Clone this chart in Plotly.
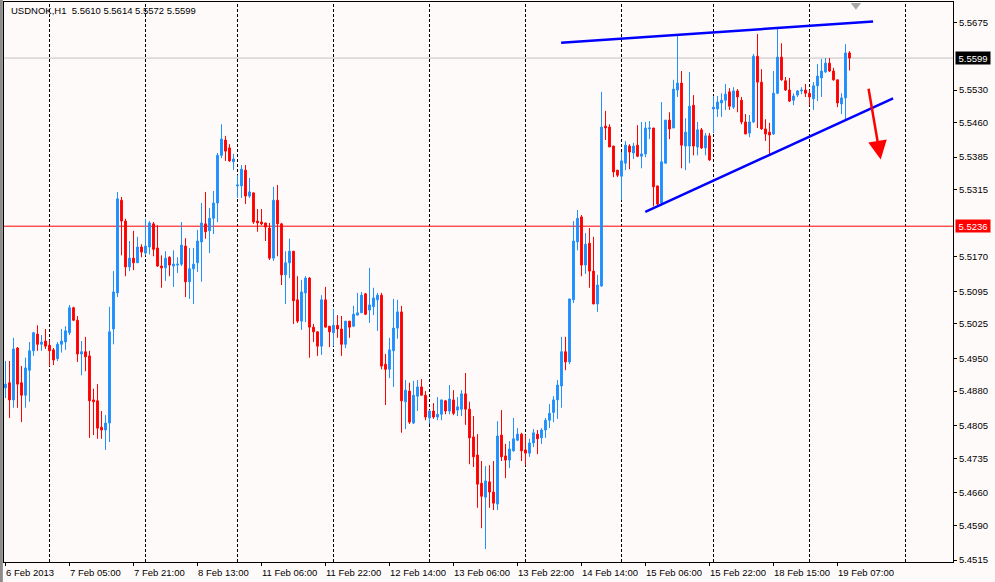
import plotly.graph_objects as go

# USDNOK H1 candles, bar index 0 = 6 Feb 2013 13:00
open_ = [5.4887, 5.4898, 5.4861, 5.4973, 5.4898, 5.4871, 5.4925, 5.4967, 5.5003, 5.4981,
         5.4988, 5.4979, 5.4969, 5.4950, 5.4981, 5.4986, 5.5006, 5.5060, 5.5033, 5.4960,
         5.4965, 5.4956, 5.4861, 5.4859, 5.4802, 5.4796, 5.4811, 5.5014, 5.5092, 5.5292,
         5.5247, 5.5148, 5.5167, 5.5157, 5.5191, 5.5178, 5.5191, 5.5241, 5.5189, 5.5150,
         5.5146, 5.5169, 5.5150, 5.5152, 5.5154, 5.5193, 5.5116, 5.5144, 5.5157, 5.5202,
         5.5241, 5.5226, 5.5253, 5.5286, 5.5389, 5.5422, 5.5405, 5.5375, 5.5323, 5.5323,
         5.5357, 5.5301, 5.5308, 5.5247, 5.5245, 5.5243, 5.5232, 5.5167, 5.5292, 5.5241,
         5.5131, 5.5157, 5.5182, 5.5077, 5.5031, 5.5092, 5.5124, 5.5018, 5.5008, 5.4977,
         5.5077, 5.5020, 5.5006, 5.5022, 5.5014, 5.4981, 5.5031, 5.5020, 5.5044, 5.5049,
         5.5090, 5.5055, 5.5062, 5.5077, 5.5087, 5.4938, 5.4927, 5.4967, 5.5016, 5.5051,
         5.4857, 5.4880, 5.4811, 5.4869, 5.4889, 5.4871, 5.4822, 5.4837, 5.4824, 5.4830,
         5.4859, 5.4837, 5.4861, 5.4839, 5.4841, 5.4874, 5.4841, 5.4781, 5.4742, 5.4681,
         5.4651, 5.4684, 5.4662, 5.4636, 5.4785, 5.4740, 5.4731, 5.4751, 5.4774, 5.4787,
         5.4753, 5.4746, 5.4768, 5.4787, 5.4779, 5.4796, 5.4817, 5.4834, 5.4861, 5.4891,
         5.4965, 5.4943, 5.5077, 5.5202, 5.5256, 5.5152, 5.5199, 5.5139, 5.5068, 5.5107,
         5.5452, 5.5450, 5.5409, 5.5357, 5.5344, 5.5372, 5.5409, 5.5394, 5.5411, 5.5387,
         5.5392, 5.5446, 5.5448, 5.5323, 5.5286, 5.5372, 5.5465, 5.5448, 5.5530, 5.5545,
         5.5409, 5.5409, 5.5497, 5.5407, 5.5444, 5.5405, 5.5431, 5.5489, 5.5489, 5.5502,
         5.5508, 5.5526, 5.5493, 5.5528, 5.5508, 5.5461, 5.5437, 5.5461, 5.5603, 5.5547,
         5.5446, 5.5439, 5.5435, 5.5523, 5.5601, 5.5550, 5.5530, 5.5508, 5.5519, 5.5528,
         5.5530, 5.5523, 5.5511, 5.5539, 5.5556, 5.5569, 5.5588, 5.5571, 5.5552, 5.5500,
         5.5513, 5.5610]

high = [5.4945, 5.4945, 5.4995, 5.4975, 5.4934, 5.4952, 5.4986, 5.5008, 5.5022, 5.5001,
        5.5014, 5.4990, 5.4973, 5.4986, 5.5014, 5.5020, 5.5066, 5.5062, 5.5042, 5.4988,
        5.4997, 5.4967, 5.4885, 5.4895, 5.4837, 5.4828, 5.5062, 5.5139, 5.5310, 5.5299,
        5.5252, 5.5204, 5.5226, 5.5213, 5.5197, 5.5252, 5.5247, 5.5245, 5.5238, 5.5173,
        5.5182, 5.5171, 5.5184, 5.5169, 5.5245, 5.5210, 5.5189, 5.5189, 5.5228, 5.5286,
        5.5310, 5.5275, 5.5312, 5.5394, 5.5456, 5.5431, 5.5413, 5.5392, 5.5346, 5.5368,
        5.5368, 5.5340, 5.5308, 5.5273, 5.5273, 5.5243, 5.5243, 5.5321, 5.5325, 5.5243,
        5.5182, 5.5209, 5.5182, 5.5128, 5.5120, 5.5128, 5.5126, 5.5025, 5.5008, 5.5087,
        5.5105, 5.5020, 5.5057, 5.5044, 5.5042, 5.5031, 5.5031, 5.5064, 5.5092, 5.5094,
        5.5092, 5.5146, 5.5103, 5.5092, 5.5092, 5.4960, 5.4995, 5.5079, 5.5077, 5.5064,
        5.4904, 5.4898, 5.4902, 5.4904, 5.4906, 5.4880, 5.4839, 5.4854, 5.4867, 5.4861,
        5.4861, 5.4893, 5.4882, 5.4867, 5.4882, 5.4919, 5.4857, 5.4826, 5.4787, 5.4729,
        5.4718, 5.4720, 5.4729, 5.4815, 5.4839, 5.4766, 5.4772, 5.4822, 5.4800, 5.4790,
        5.4785, 5.4777, 5.4798, 5.4796, 5.4800, 5.4822, 5.4852, 5.4869, 5.4904, 5.4997,
        5.4997, 5.5079, 5.5247, 5.5271, 5.5260, 5.5221, 5.5232, 5.5213, 5.5131, 5.5526,
        5.5485, 5.5456, 5.5409, 5.5357, 5.5396, 5.5420, 5.5413, 5.5416, 5.5454, 5.5461,
        5.5461, 5.5463, 5.5448, 5.5323, 5.5504, 5.5465, 5.5482, 5.5552, 5.5649, 5.5571,
        5.5469, 5.5569, 5.5519, 5.5461, 5.5448, 5.5437, 5.5437, 5.5517, 5.5517, 5.5523,
        5.5543, 5.5534, 5.5536, 5.5532, 5.5515, 5.5478, 5.5476, 5.5608, 5.5651, 5.5575,
        5.5467, 5.5459, 5.5571, 5.5662, 5.5631, 5.5558, 5.5556, 5.5523, 5.5530, 5.5536,
        5.5543, 5.5530, 5.5547, 5.5586, 5.5597, 5.5599, 5.5599, 5.5578, 5.5552, 5.5523,
        5.5629, 5.5614]

low = [5.4865, 5.4822, 5.4844, 5.4844, 5.4813, 5.4844, 5.4857, 5.4956, 5.4967, 5.4967,
       5.4971, 5.4934, 5.4936, 5.4945, 5.4963, 5.4969, 5.5001, 5.5031, 5.4943, 5.4914,
       5.4923, 5.4779, 5.4785, 5.4777, 5.4777, 5.4753, 5.4770, 5.4981, 5.5083, 5.5173,
       5.5128, 5.5139, 5.5141, 5.5157, 5.5169, 5.5173, 5.5175, 5.5171, 5.5148, 5.5103,
       5.5118, 5.5128, 5.5105, 5.5135, 5.5150, 5.5083, 5.5079, 5.5068, 5.5137, 5.5116,
       5.5209, 5.5178, 5.5219, 5.5245, 5.5383, 5.5377, 5.5375, 5.5357, 5.5297, 5.5297,
       5.5284, 5.5297, 5.5241, 5.5224, 5.5238, 5.5204, 5.5163, 5.5161, 5.5171, 5.5109,
       5.5068, 5.5124, 5.5025, 5.5027, 5.5012, 5.5029, 5.4952, 5.4986, 5.4956, 5.4958,
       5.5018, 5.4975, 5.4977, 5.4995, 5.4956, 5.4973, 5.4995, 5.5018, 5.5044, 5.5049,
       5.5044, 5.5027, 5.5044, 5.5010, 5.4927, 5.4850, 5.4908, 5.4889, 5.4993, 5.4790,
       5.4798, 5.4809, 5.4809, 5.4837, 5.4871, 5.4817, 5.4809, 5.4820, 5.4817, 5.4817,
       5.4830, 5.4830, 5.4828, 5.4826, 5.4826, 5.4807, 5.4722, 5.4716, 5.4628, 5.4584,
       5.4539, 5.4628, 5.4623, 5.4623, 5.4729, 5.4692, 5.4714, 5.4749, 5.4772, 5.4729,
       5.4720, 5.4738, 5.4759, 5.4744, 5.4766, 5.4779, 5.4800, 5.4813, 5.4820, 5.4844,
       5.4925, 5.4938, 5.5070, 5.5184, 5.5128, 5.5133, 5.5103, 5.5068, 5.5051, 5.5105,
       5.5422, 5.5407, 5.5342, 5.5342, 5.5292, 5.5357, 5.5359, 5.5381, 5.5385, 5.5361,
       5.5385, 5.5424, 5.5279, 5.5279, 5.5284, 5.5372, 5.5424, 5.5448, 5.5515, 5.5361,
       5.5357, 5.5372, 5.5389, 5.5389, 5.5403, 5.5389, 5.5377, 5.5437, 5.5472, 5.5472,
       5.5487, 5.5487, 5.5489, 5.5482, 5.5456, 5.5435, 5.5428, 5.5459, 5.5448, 5.5444,
       5.5420, 5.5392, 5.5433, 5.5521, 5.5550, 5.5528, 5.5504, 5.5497, 5.5515, 5.5521,
       5.5515, 5.5497, 5.5487, 5.5506, 5.5515, 5.5567, 5.5569, 5.5550, 5.5493, 5.5478,
       5.5467, 5.5572]

close = [5.4895, 5.4861, 5.4971, 5.4895, 5.4871, 5.4930, 5.4967, 5.5006, 5.4981, 5.4986,
         5.4977, 5.4967, 5.4947, 5.4981, 5.4988, 5.5010, 5.5060, 5.5033, 5.4960, 5.4965,
         5.4954, 5.4859, 5.4857, 5.4800, 5.4796, 5.4811, 5.5008, 5.5094, 5.5295, 5.5247,
         5.5148, 5.5167, 5.5157, 5.5191, 5.5180, 5.5193, 5.5243, 5.5186, 5.5150, 5.5146,
         5.5167, 5.5152, 5.5154, 5.5154, 5.5195, 5.5116, 5.5144, 5.5154, 5.5204, 5.5243,
         5.5224, 5.5253, 5.5286, 5.5389, 5.5424, 5.5398, 5.5377, 5.5381, 5.5325, 5.5359,
         5.5301, 5.5310, 5.5245, 5.5243, 5.5241, 5.5234, 5.5167, 5.5292, 5.5241, 5.5131,
         5.5157, 5.5182, 5.5075, 5.5031, 5.5094, 5.5124, 5.5018, 5.5008, 5.4977, 5.5077,
         5.5018, 5.5008, 5.5022, 5.5014, 5.4981, 5.5031, 5.5018, 5.5046, 5.5049, 5.5087,
         5.5046, 5.5066, 5.5081, 5.5087, 5.4934, 5.4927, 5.4969, 5.5016, 5.5051, 5.4859,
         5.4882, 5.4813, 5.4871, 5.4889, 5.4871, 5.4824, 5.4837, 5.4824, 5.4830, 5.4861,
         5.4837, 5.4863, 5.4832, 5.4846, 5.4874, 5.4841, 5.4779, 5.4738, 5.4679, 5.4653,
         5.4686, 5.4662, 5.4638, 5.4783, 5.4738, 5.4731, 5.4755, 5.4777, 5.4787, 5.4751,
         5.4746, 5.4768, 5.4790, 5.4777, 5.4796, 5.4817, 5.4832, 5.4861, 5.4893, 5.4965,
         5.4943, 5.5079, 5.5204, 5.5253, 5.5152, 5.5197, 5.5139, 5.5068, 5.5109, 5.5450,
         5.5448, 5.5407, 5.5353, 5.5346, 5.5377, 5.5411, 5.5396, 5.5409, 5.5387, 5.5392,
         5.5448, 5.5448, 5.5321, 5.5284, 5.5375, 5.5465, 5.5446, 5.5532, 5.5545, 5.5411,
         5.5439, 5.5495, 5.5409, 5.5444, 5.5405, 5.5431, 5.5379, 5.5493, 5.5504, 5.5508,
         5.5521, 5.5495, 5.5528, 5.5515, 5.5461, 5.5435, 5.5461, 5.5603, 5.5547, 5.5446,
         5.5435, 5.5433, 5.5523, 5.5601, 5.5552, 5.5530, 5.5506, 5.5517, 5.5528, 5.5530,
         5.5523, 5.5515, 5.5539, 5.5560, 5.5571, 5.5588, 5.5571, 5.5552, 5.5502, 5.5513,
         5.5610, 5.5599]

bars = list(range(len(close)))

# time axis labels, one every 16 bars
date_labels = ["6 Feb 2013", "7 Feb 05:00", "7 Feb 21:00", "8 Feb 13:00", "11 Feb 06:00",
               "11 Feb 22:00", "12 Feb 14:00", "13 Feb 06:00", "13 Feb 22:00", "14 Feb 14:00",
               "15 Feb 06:00", "15 Feb 22:00", "18 Feb 15:00", "19 Feb 07:00"]
date_label_bars = [16 * k for k in range(len(date_labels))]
day_grid_bars = [11, 35, 58, 82, 106, 130, 154, 177, 201, 225]

price_ticks = [5.5675, 5.5530, 5.5460, 5.5385, 5.5315, 5.5170, 5.5095, 5.5025, 5.4950,
               5.4880, 5.4805, 5.4735, 5.4660, 5.4590, 5.4515]
bid_price = 5.5599
level_price = 5.5236

# hand-drawn objects (bar index, price)
upper_line_x = [138.9, 216.9]
upper_line_y = [5.5632, 5.5678]
lower_line_x = [159.95, 221.9]
lower_line_y = [5.5267, 5.5512]
arrow_from = (215.7, 5.5536)
arrow_to = (218.8, 5.5380)

BG = "#FFFAFA"
FONT = "Liberation Sans"

fig = go.Figure()

fig.add_trace(go.Candlestick(
    x=bars, open=open_, high=high, low=low, close=close,
    increasing=dict(line=dict(color="#1E90FF", width=1), fillcolor="#1E90FF"),
    decreasing=dict(line=dict(color="#FF0000", width=1), fillcolor="#FF0000"),
    whiskerwidth=0, showlegend=False, hoverinfo="skip",
))

fig.add_trace(go.Scatter(x=upper_line_x, y=upper_line_y, mode="lines",
                         line=dict(color="#0000FF", width=2.5), showlegend=False, hoverinfo="skip"))
fig.add_trace(go.Scatter(x=lower_line_x, y=lower_line_y, mode="lines",
                         line=dict(color="#0000FF", width=2.5), showlegend=False, hoverinfo="skip"))

# chart shift marker
fig.add_trace(go.Scatter(x=[212.6], y=[5.5713], mode="markers", cliponaxis=False,
                         marker=dict(symbol="triangle-down", size=9, color="#A8A8A8"),
                         showlegend=False, hoverinfo="skip"))

shapes = []
for b in day_grid_bars:
    shapes.append(dict(type="line", xref="x", yref="paper", x0=b, x1=b, y0=0, y1=1,
                       line=dict(color="black", width=1, dash="3px,2px"), layer="below"))
shapes.append(dict(type="line", xref="paper", yref="y", x0=0, x1=1, y0=bid_price, y1=bid_price,
                   line=dict(color="#C0C0C0", width=1), layer="below"))
shapes.append(dict(type="line", xref="paper", yref="y", x0=0, x1=1, y0=level_price, y1=level_price,
                   line=dict(color="#FF0000", width=1), layer="below"))
# window frame on the left
shapes.append(dict(type="rect", xref="paper", yref="paper", x0=-0.0045, x1=-0.0012, y0=-0.05, y1=1.01,
                   fillcolor="#8C8C8C", line=dict(width=0), layer="above"))

annotations = []
annotations.append(dict(text="USDNOK,H1  5.5610 5.5614 5.5572 5.5599", xref="paper", yref="paper",
                        x=0, y=1, xanchor="left", yanchor="middle", xshift=5, yshift=-8,
                        showarrow=False, font=dict(family=FONT, size=9.5, color="black")))
for b, t in zip(date_label_bars, date_labels):
    annotations.append(dict(text=t, xref="x", yref="paper", x=b, y=0, xanchor="left", yanchor="top",
                            xshift=-2, yshift=-3, showarrow=False,
                            font=dict(family=FONT, size=9.5, color="black")))
annotations.append(dict(text="%.4f" % bid_price, xref="paper", yref="y", x=1, y=bid_price,
                        xanchor="left", yanchor="middle", xshift=2, showarrow=False,
                        bgcolor="black", width=34, height=12, borderpad=0,
                        font=dict(family=FONT, size=9.5, color="white")))
annotations.append(dict(text="%.4f" % level_price, xref="paper", yref="y", x=1, y=level_price,
                        xanchor="left", yanchor="middle", xshift=2, showarrow=False,
                        bgcolor="#FF0000", width=34, height=12, borderpad=0,
                        font=dict(family=FONT, size=9.5, color="white")))
annotations.append(dict(text="", x=arrow_to[0], y=arrow_to[1], ax=arrow_from[0], ay=arrow_from[1],
                        xref="x", yref="y", axref="x", ayref="y", showarrow=True,
                        arrowhead=2, arrowsize=1.5, arrowwidth=2.5, arrowcolor="#FF0000"))

fig.update_layout(
    width=995, height=582,
    margin=dict(l=4, r=42, t=2, b=20),
    paper_bgcolor=BG, plot_bgcolor=BG,
    boxgap=0.35,
    shapes=shapes, annotations=annotations,
    font=dict(family=FONT, size=9.5, color="black"),
)
fig.update_xaxes(
    range=[-0.375, 236.875], rangeslider_visible=False,
    showgrid=False, zeroline=False,
    showline=True, mirror=True, linecolor="black", linewidth=1,
    tickvals=date_label_bars, showticklabels=False, ticks="outside", ticklen=3, tickcolor="black",
)
fig.update_yaxes(
    side="right", range=[5.4511, 5.5720],
    showgrid=False, zeroline=False,
    showline=True, mirror=True, linecolor="black", linewidth=1,
    tickvals=price_ticks, ticktext=["%.4f" % v for v in price_ticks],
    ticks="outside", ticklen=3, tickcolor="black",
    tickfont=dict(family=FONT, size=9.5, color="black"),
)

# page body margin would push the figure 8px off the window
fig.write_html("out.html", config={"displayModeBar": False},
               post_script="document.body.style.margin='0';")
